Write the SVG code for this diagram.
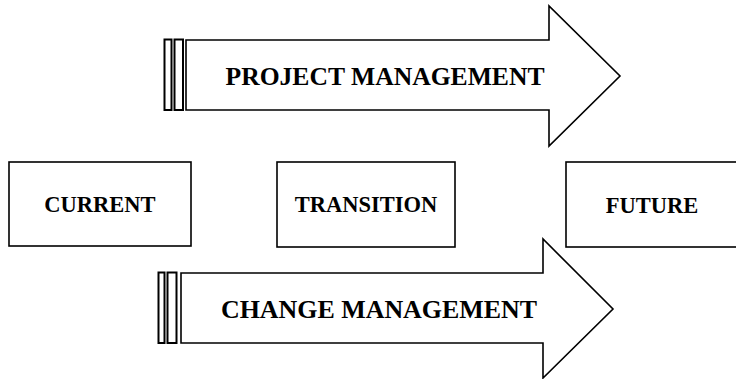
<svg xmlns="http://www.w3.org/2000/svg" width="736" height="379" viewBox="0 0 736 379">
<style>
.shape{fill:#fff;stroke:#000;stroke-width:1.6;stroke-linejoin:miter}
.bar{fill:#fff;stroke:#000;stroke-width:2}
.big{font-family:"Liberation Serif","Times New Roman",serif;font-weight:bold;font-size:26px;fill:#000;text-anchor:middle}
.lbl{font-family:"Liberation Serif","Times New Roman",serif;font-weight:bold;font-size:22.5px;fill:#000;text-anchor:middle}
</style>
<rect width="736" height="379" fill="#fff"/>
<g id="connectors">
  <g id="project-management">
    <rect class="bar" x="164.5" y="39.5" width="7" height="70.5"/>
    <rect class="bar" x="174.5" y="39.5" width="8.5" height="70.5"/>
    <polygon class="shape" points="186,40 549,40 549,6 620,76 549,146 549,110 186,110"/>
    <text class="big" x="385" y="85" textLength="319" lengthAdjust="spacingAndGlyphs">PROJECT MANAGEMENT</text>
  </g>
  <g id="change-management">
    <rect class="bar" x="158.5" y="272.5" width="6" height="70.5"/>
    <rect class="bar" x="167.5" y="272.5" width="9" height="70.5"/>
    <polygon class="shape" points="181,273 543,273 543,239 613,309 543,378 543,343 181,343"/>
    <text class="big" x="379" y="318" textLength="316" lengthAdjust="spacingAndGlyphs">CHANGE MANAGEMENT</text>
  </g>
</g>
<g id="current">
  <rect class="shape" x="9" y="162" width="182" height="84"/>
  <text class="lbl" x="100" y="212">CURRENT</text>
</g>
<g id="transition">
  <rect class="shape" x="277" y="162" width="178" height="85"/>
  <text class="lbl" x="366" y="212">TRANSITION</text>
</g>
<g id="future">
  <rect class="shape" x="566" y="162" width="180" height="85"/>
  <text class="lbl" x="652" y="213">FUTURE</text>
</g>
</svg>
